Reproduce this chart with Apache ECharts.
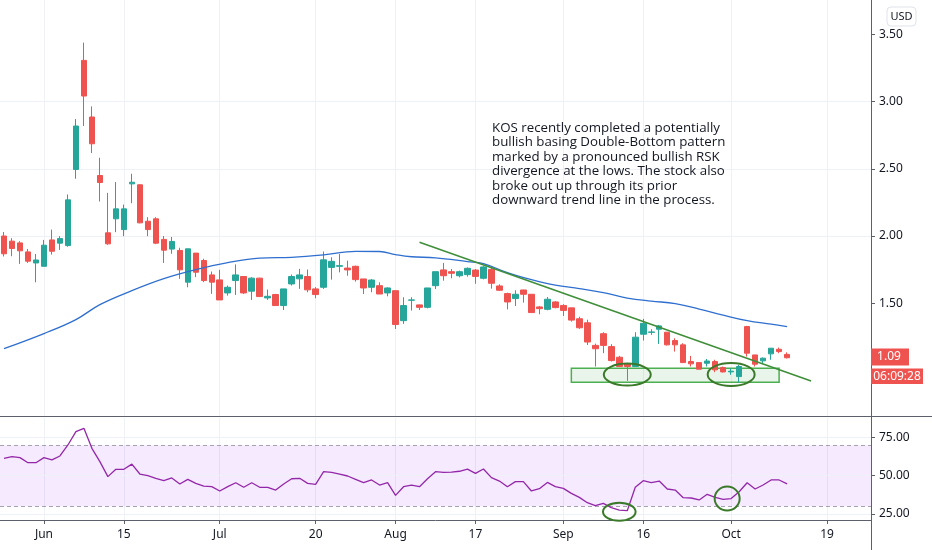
<!DOCTYPE html>
<html>
<head>
<meta charset="utf-8">
<script src="https://cdn.jsdelivr.net/npm/echarts@6/dist/echarts.min.js"></script>
<style>
  html, body { margin: 0; padding: 0; background: #fff; }
  #chart { width: 932px; height: 550px; }
</style>
</head>
<body>
<div id="chart"></div>
<script>
// trading days, May 22 -> Oct 12 with data, then empty future days
const dates = [
  '05-22','05-26','05-27','05-28','05-29',
  '06-01','06-02','06-03','06-04','06-05','06-08','06-09','06-10','06-11','06-12',
  '06-15','06-16','06-17','06-18','06-19','06-22','06-23','06-24','06-25','06-26','06-29','06-30',
  '07-01','07-02','07-06','07-07','07-08','07-09','07-10','07-13','07-14','07-15','07-16','07-17',
  '07-20','07-21','07-22','07-23','07-24','07-27','07-28','07-29','07-30','07-31',
  '08-03','08-04','08-05','08-06','08-07','08-10','08-11','08-12','08-13','08-14',
  '08-17','08-18','08-19','08-20','08-21','08-24','08-25','08-26','08-27','08-28','08-31',
  '09-01','09-02','09-03','09-04','09-08','09-09','09-10','09-11','09-14','09-15',
  '09-16','09-17','09-18','09-21','09-22','09-23','09-24','09-25','09-28','09-29','09-30',
  '10-01','10-02','10-05','10-06','10-07','10-08','10-09','10-12',
  '10-13','10-14','10-15','10-16','10-19','10-20','10-21','10-22','10-23','10-26'
]

const opens = [
  2.00,1.962,1.949,1.882,1.80,1.775,1.971,1.947,1.929,2.495,
  3.306,2.885,2.45,2.024,2.128,2.048,2.388,2.381,2.11,2.128,
  1.975,1.903,1.893,1.657,1.873,1.818,1.711,1.674,1.577,1.669,
  1.699,1.59,1.687,1.54,1.565,1.483,1.644,1.682,1.699,1.607,
  1.619,1.767,1.775,1.762,1.775,1.681,1.619,1.631,1.577,1.594,
  1.371,1.523,1.488,1.47,1.631,1.748,1.735,1.705,1.713,1.747,
  1.686,1.752,1.629,1.572,1.535,1.599,1.567,1.473,1.455,1.51,
  1.484,1.466,1.385,1.355,1.187,1.274,1.178,1.099,1.05,1.03,
  1.27,1.284,1.307,1.285,1.223,1.191,1.067,1.059,1.054,1.067,
  1.022,0.99,0.955,1.327,1.116,1.072,1.124,1.158,1.12
]
const closes = [
  1.868,1.907,1.89,1.813,1.822,1.932,1.887,1.981,2.269,2.818,
  3.041,2.686,2.398,1.942,2.202,2.202,2.40,2.098,2.048,1.947,
  1.895,1.96,1.749,1.905,1.731,1.669,1.657,1.525,1.619,1.711,
  1.577,1.687,1.55,1.552,1.483,1.607,1.699,1.711,1.60,1.565,
  1.823,1.812,1.78,1.748,1.676,1.614,1.673,1.569,1.614,1.342,
  1.483,1.525,1.47,1.614,1.735,1.705,1.723,1.735,1.76,1.70,
  1.77,1.649,1.597,1.51,1.567,1.567,1.431,1.46,1.53,1.468,
  1.447,1.375,1.318,1.212,1.162,1.187,1.074,1.03,1.03,1.248,
  1.351,1.287,1.332,1.191,1.191,1.059,1.05,1.01,1.071,1.005,
  0.99,0.995,1.03,1.129,1.047,1.092,1.166,1.141,1.095
]
const lows = [
  1.848,1.85,1.793,1.80,1.656,1.775,1.862,1.897,1.92,2.426,
  2.818,2.617,2.257,1.935,2.029,1.999,2.244,2.095,1.999,1.94,
  1.80,1.868,1.682,1.619,1.694,1.657,1.57,1.525,1.557,1.562,
  1.57,1.525,1.55,1.525,1.483,1.45,1.632,1.607,1.582,1.537,
  1.607,1.676,1.73,1.705,1.661,1.569,1.582,1.569,1.552,1.309,
  1.347,1.446,1.45,1.462,1.606,1.668,1.686,1.693,1.698,1.645,
  1.678,1.609,1.592,1.455,1.48,1.505,1.431,1.418,1.448,1.463,
  1.406,1.364,1.31,1.19,1.03,1.129,1.067,1.03,0.923,1.03,
  1.223,1.265,1.198,1.186,1.141,1.059,1.03,1.01,1.03,0.988,
  0.985,0.968,0.911,1.104,1.03,1.054,1.08,1.129,1.09
]
const highs = [
  2.03,1.984,1.962,1.904,1.867,1.971,2.048,1.999,2.309,2.87,
  3.438,2.964,2.582,2.321,2.401,2.234,2.463,2.385,2.14,2.14,
  2.0,1.993,1.913,1.905,1.873,1.831,1.736,1.749,1.632,1.789,
  1.70,1.694,1.69,1.602,1.57,1.607,1.714,1.756,1.751,1.62,
  1.885,1.842,1.866,1.817,1.78,1.681,1.68,1.656,1.619,1.594,
  1.545,1.545,1.49,1.614,1.735,1.80,1.755,1.743,1.767,1.755,
  1.777,1.765,1.641,1.579,1.597,1.60,1.567,1.48,1.547,1.517,
  1.493,1.466,1.40,1.378,1.2,1.285,1.196,1.109,1.05,1.285,
  1.384,1.307,1.339,1.286,1.24,1.203,1.109,1.06,1.086,1.08,
  1.03,1.018,1.042,1.332,1.116,1.097,1.166,1.171,1.135
]

// moving average at these bars
const maAt = [0,5,9,12,16,20,24,28,32,36,40,44,47,49,51,54,58,60,63,66,69,72,75,78,81,84,87,90,93,96,98]
const maVals = [1.163,1.275,1.379,1.49,1.594,1.683,1.75,1.802,1.836,1.842,1.86,1.886,1.885,1.862,1.846,
  1.838,1.81,1.795,1.728,1.676,1.635,1.609,1.579,1.539,1.516,1.498,1.457,1.412,1.371,1.345,1.327]

const rsi = [
  61.4,62.5,61.8,58.5,58.5,61.8,60.3,62.9,70.1,78.8,
  81.0,67.9,59.2,49.4,54.2,54.2,57.6,51.1,50.0,48.3,
  46.7,48.5,44.6,47.6,45.0,43.2,42.8,40.0,42.8,45.4,
  42.4,45.4,42.4,42.4,40.6,44.6,48.0,48.3,45.0,44.3,
  52.6,52.2,51.1,49.8,47.6,45.4,47.2,43.9,45.4,37.1,
  42.8,43.9,42.8,48.0,52.6,52.2,52.4,52.9,54.3,51.5,
  54.4,48.7,46.5,42.8,46.1,46.1,40.0,41.5,45.6,42.8,
  41.7,38.4,35.8,32.3,30.4,31.9,29.1,27.5,27.1,42.4,
  46.7,45.4,46.5,41.3,40.6,35.6,35.4,34.1,37.8,35.8,
  34.5,35.0,39.5,45.4,41.3,43.9,47.2,47.2,44.6
]

const tickDates = ['06-01','06-15','07-01','07-20','08-03','08-17','09-01','09-16','10-01','10-19']
const tickLabels = ['Jun','15','Jul','20','Aug','17','Sep','16','Oct','19']
const priceTicks = [1.5, 2.0, 2.5, 3.0, 3.5]
const rsiTicks = [25, 50, 75]

// annotations
const trendFrom = ['08-06', 1.954]
const trendTo = ['10-15', 0.923]
const boxFrom = ['09-02', 1.017]
const boxTo = ['10-09', 0.913]
const priceRings = [['09-14', 0.97], ['10-01', 0.97]]
const rsiRings = [['09-11', 26.4], ['09-30', 35]]
const lastPrice = 1.09
const countdown = '06:09:28'
const note = [
  'KOS recently completed a potentially',
  'bullish basing Double-Bottom pattern',
  'marked by a pronounced bullish RSK',
  'divergence at the lows. The stock also',
  'broke out up through its prior',
  'downward trend line in the process.'
]

const gridColor = '#eef1f6'
const axisColor = '#5d606b'
const labelColor = '#131722'
const isTick = (index, value) => tickDates.indexOf(value) >= 0

const candles = opens.map((o, i) => [o, closes[i], lows[i], highs[i]])

const chart = echarts.init(document.getElementById('chart'))
chart.setOption({
  animation: false,
  backgroundColor: '#ffffff',
  textStyle: { fontFamily: '"Noto Sans", sans-serif' },
  grid: [
    { left: -2, right: 61, top: 0, height: 416 },
    { left: -2, right: 61, top: 418, height: 102 }
  ],
  xAxis: [
    {
      type: 'category', gridIndex: 0, data: dates, boundaryGap: true,
      axisLine: { show: false }, axisTick: { show: false }, axisLabel: { show: false },
      splitLine: { show: true, alignWithLabel: true, interval: isTick, lineStyle: { color: gridColor } }
    },
    {
      type: 'category', gridIndex: 1, data: dates, boundaryGap: true,
      axisLine: { show: true, lineStyle: { color: axisColor } },
      axisTick: { show: true, alignWithLabel: true, interval: isTick, length: 4, lineStyle: { color: axisColor } },
      axisLabel: {
        interval: isTick, margin: 9, fontSize: 12, color: labelColor,
        formatter: v => tickLabels[tickDates.indexOf(v)]
      },
      splitLine: { show: true, alignWithLabel: true, interval: isTick, lineStyle: { color: gridColor } }
    }
  ],
  yAxis: [
    {
      type: 'value', gridIndex: 0, position: 'right', min: 0.662, max: 3.755, scale: true,
      axisLine: { show: false },
      axisTick: { show: true, length: 4, customValues: priceTicks, lineStyle: { color: axisColor } },
      axisLabel: { customValues: priceTicks, margin: 8, fontSize: 12, color: labelColor, formatter: v => v.toFixed(2) },
      splitLine: { show: true, showMinLine: false, showMaxLine: false, lineStyle: { color: gridColor } }
    },
    {
      type: 'value', gridIndex: 1, position: 'right', min: 21.0, max: 87.76, scale: true,
      axisLine: { show: false },
      axisTick: { show: true, length: 4, customValues: rsiTicks, lineStyle: { color: axisColor } },
      axisLabel: { customValues: rsiTicks, margin: 8, fontSize: 12, color: labelColor, formatter: v => v.toFixed(2) },
      splitLine: { show: false }
    }
  ],
  series: [
    {
      type: 'candlestick', xAxisIndex: 0, yAxisIndex: 0, data: candles, barWidth: 6,
      itemStyle: { color: '#26a69a', color0: '#ef5350', borderColor: '#26a69a', borderColor0: '#ef5350', borderWidth: 1 },
      markArea: {
        silent: true,
        itemStyle: { color: 'rgba(76,175,80,0.12)', borderColor: '#4caf50', borderWidth: 1.5 },
        data: [[{ coord: boxFrom }, { coord: boxTo }]]
      },
      markLine: {
        silent: true, symbol: ['none', 'none'], label: { show: false },
        lineStyle: { color: '#3f8f3a', width: 1.6, type: 'solid' },
        data: [[{ coord: trendFrom }, { coord: trendTo }]]
      }
    },
    {
      type: 'line', xAxisIndex: 0, yAxisIndex: 0, z: 4,
      data: maAt.map((i, k) => [dates[i], maVals[k]]),
      smooth: 0.4, symbol: 'none',
      lineStyle: { color: '#2f6fcf', width: 1.3 }
    },
    {
      type: 'line', xAxisIndex: 1, yAxisIndex: 1, z: 4,
      data: rsi, symbol: 'none',
      lineStyle: { color: '#9427a8', width: 1.3 },
      markArea: {
        silent: true, z: 0,
        itemStyle: { color: 'rgba(155,50,255,0.1)' },
        data: [[{ yAxis: 30 }, { yAxis: 70 }]]
      },
      markLine: {
        silent: true, z: 1, symbol: ['none', 'none'], label: { show: false },
        lineStyle: { color: gridColor, width: 1, type: 'solid' },
        data: [
          { yAxis: 25 }, { yAxis: 50 }, { yAxis: 75 },
          { yAxis: 70, lineStyle: { color: '#a6a3b0', type: [4, 3] } },
          { yAxis: 30, lineStyle: { color: '#a6a3b0', type: [4, 3] } }
        ]
      }
    }
  ]
})

// drawings that sit on top of the chart, placed from data coordinates
const at = (g, d) => chart.convertToPixel({ gridIndex: g }, d)
const ring = (p, rx, ry) => ({
  type: 'ellipse', z: 60,
  shape: { cx: p[0], cy: p[1], rx: rx, ry: ry },
  style: { fill: 'none', stroke: '#3b7a2a', lineWidth: 2 }
})
const r1 = at(1, rsiRings[1])
const r1b = at(1, ['10-01', rsiRings[1][1]])
const tagY = at(0, [dates[98], lastPrice])[1]

chart.setOption({
  graphic: [
    { type: 'line', z: 50, shape: { x1: 0, y1: 416.5, x2: 932, y2: 416.5 }, style: { stroke: axisColor, lineWidth: 1 } },
    { type: 'line', z: 50, shape: { x1: 871.5, y1: 0, x2: 871.5, y2: 550 }, style: { stroke: axisColor, lineWidth: 1 } },
    ring(at(0, priceRings[0]), 23.5, 11),
    ring(at(0, priceRings[1]), 23.5, 11.5),
    ring(at(1, rsiRings[0]), 16.3, 9),
    ring([(r1[0] + r1b[0]) / 2, r1[1]], 12.5, 12),
    {
      type: 'text', z: 60, left: 492, top: 121,
      style: { text: note.join('\n'), font: '13.3px "Open Sans", sans-serif', lineHeight: 14.4, fill: labelColor }
    },
    { type: 'rect', z: 70, shape: { x: 871, y: tagY - 10, width: 38, height: 17 }, style: { fill: '#ef5350' } },
    {
      type: 'text', z: 71, x: 889, y: tagY - 1.5,
      style: { text: lastPrice.toFixed(2), font: '12px "Noto Sans", sans-serif', fill: '#fff', align: 'center', verticalAlign: 'middle' }
    },
    { type: 'rect', z: 70, shape: { x: 871, y: tagY + 10, width: 52, height: 15.5 }, style: { fill: '#ef5350' } },
    {
      type: 'text', z: 71, x: 897, y: tagY + 17.8,
      style: { text: countdown, font: '12px "Noto Sans", sans-serif', fill: '#fff', align: 'center', verticalAlign: 'middle' }
    },
    { type: 'rect', z: 70, shape: { x: 887, y: 7, width: 29, height: 19, r: 4 }, style: { fill: '#fff', stroke: '#e0e3eb', lineWidth: 1 } },
    {
      type: 'text', z: 71, x: 901.5, y: 16.5,
      style: { text: 'USD', font: '11px "Noto Sans", sans-serif', fill: labelColor, align: 'center', verticalAlign: 'middle' }
    }
  ]
})

window.addEventListener('resize', () => {
  chart.resize()
})
</script>
</body>
</html>
